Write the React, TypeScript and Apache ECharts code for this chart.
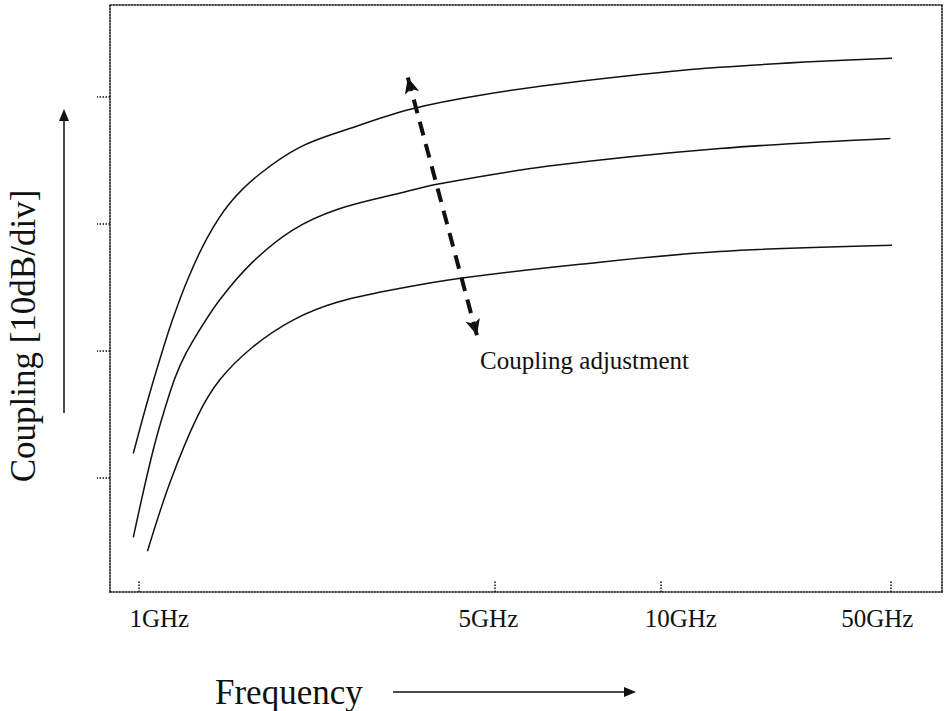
import React, { useEffect, useRef } from "react";
import * as echarts from "echarts";

// Schematic positions along the frequency axis (not a log scale in the drawing)
const freqLabels = ["1GHz", "5GHz", "10GHz", "50GHz"];
const freqTickPos = [3.4, 46.2, 66.2, 93.9];
// Coupling axis ticks, 10 dB per division
const couplingTicks = [9, 19, 29, 39];

// Curve 1 (highest coupling)
const topX = [2.8, 4.2, 5.8, 7.5, 9.4, 11.7, 14.4, 18.0, 22.8, 28.9, 36.1, 44.5, 56.5, 73.3, 94.0];
const topY = [10.9, 14.3, 17.9, 21.4, 24.7, 27.9, 30.6, 32.9, 35.0, 36.5, 38.0, 39.1, 40.2, 41.3, 42.0];
// Curve 2 (middle)
const midX = [2.8, 5.2, 7.2, 8.4, 10.0, 13.2, 17.2, 22.0, 27.3, 34.9, 39.3, 52.5, 73.3, 93.8];
const midY = [4.3, 11.2, 15.7, 17.8, 19.8, 23.0, 26.0, 28.5, 30.1, 31.4, 32.1, 33.5, 34.9, 35.7];
// Curve 3 (lowest coupling)
const lowX = [4.5, 7.2, 10.5, 13.2, 17.2, 22.0, 27.3, 34.9, 42.1, 56.5, 73.3, 94.0];
const lowY = [3.2, 8.6, 13.8, 16.7, 19.3, 21.4, 22.8, 23.9, 24.7, 25.8, 26.8, 27.3];

// Coupling adjustment arrow ends [x, y]
const adjustTop = [35.8, 40.5];
const adjustBottom = [44.1, 20.2];

const FONT = "'Liberation Serif', 'Times New Roman', serif";
const INK = "#111";

const zip = (xs: number[], ys: number[]) => xs.map((x, i) => [x, ys[i]]);

export default function App() {
  const ref = useRef<HTMLDivElement>(null);
  useEffect(() => {
    if (!ref.current) return;
    const chart = echarts.init(ref.current, null, { renderer: "svg" });
    const curveStyle = { color: INK, width: 1.5 };
    const curve = (name: string, data: number[][]) => ({
      type: "line",
      name,
      data,
      smooth: 0.35,
      showSymbol: false,
      lineStyle: curveStyle,
      silent: true,
    });
    const dottedLine = { color: INK, width: 1.5, type: "dotted" };
    chart.setOption({
      animation: false,
      backgroundColor: "#fff",
      grid: { left: 110, right: 3, top: 5, bottom: 119 },
      xAxis: [
        {
          type: "value",
          min: 0,
          max: 100,
          axisLine: { show: true, onZero: false, lineStyle: dottedLine },
          axisTick: {
            show: true,
            inside: true,
            length: 12,
            customValues: freqTickPos,
            lineStyle: dottedLine,
          },
          axisLabel: {
            show: true,
            customValues: freqTickPos,
            margin: 14,
            formatter: (v: number) => {
              const i = freqTickPos.findIndex((p) => Math.abs(p - v) < 1e-6);
              if (i < 0) return "";
              return "{s" + i + "|" + freqLabels[i] + "}";
            },
            rich: {
              s0: { fontFamily: FONT, fontSize: 25, color: INK, padding: [0, 0, 0, 42] },
              s1: { fontFamily: FONT, fontSize: 25, color: INK, padding: [0, 12, 0, 0] },
              s2: { fontFamily: FONT, fontSize: 25, color: INK, padding: [0, 0, 0, 40] },
              s3: { fontFamily: FONT, fontSize: 25, color: INK, padding: [0, 28, 0, 0] },
            },
          },
          splitLine: { show: false },
        },
        {
          type: "value",
          position: "top",
          min: 0,
          max: 100,
          axisLine: { show: true, onZero: false, lineStyle: dottedLine },
          axisTick: { show: false },
          axisLabel: { show: false },
          splitLine: { show: false },
        },
      ],
      yAxis: [
        {
          type: "value",
          min: 0,
          max: 46.2,
          axisLine: { show: true, onZero: false, lineStyle: dottedLine },
          axisTick: {
            show: true,
            length: 13,
            customValues: couplingTicks,
            lineStyle: dottedLine,
          },
          axisLabel: { show: false },
          splitLine: { show: false },
        },
        {
          type: "value",
          position: "right",
          min: 0,
          max: 46.2,
          axisLine: { show: true, onZero: false, lineStyle: dottedLine },
          axisTick: { show: false },
          axisLabel: { show: false },
          splitLine: { show: false },
        },
      ],
      series: [
        curve("high", zip(topX, topY)),
        curve("mid", zip(midX, midY)),
        {
          ...curve("low", zip(lowX, lowY)),
          markLine: {
            silent: true,
            symbol: ["arrow", "arrow"],
            symbolSize: [11, 16],
            label: { show: false },
            lineStyle: { color: INK, width: 4, type: [14, 9] },
            emphasis: { disabled: true },
            data: [[{ coord: adjustTop }, { coord: adjustBottom }]],
          },
        },
      ],
      graphic: [
        {
          type: "text",
          x: 480,
          y: 360,
          style: {
            text: "Coupling adjustment",
            font: `25px ${FONT}`,
            fill: INK,
            verticalAlign: "middle",
          },
        },
        {
          type: "text",
          x: 215,
          y: 692,
          style: {
            text: "Frequency",
            font: `35px ${FONT}`,
            fill: INK,
            verticalAlign: "middle",
          },
        },
        {
          type: "line",
          shape: { x1: 393, y1: 692, x2: 626, y2: 692 },
          style: { stroke: INK, lineWidth: 1.5 },
        },
        {
          type: "polygon",
          shape: { points: [[624, 687], [636, 692], [624, 697]] },
          style: { fill: INK },
        },
        {
          type: "text",
          x: 23,
          y: 336,
          rotation: Math.PI / 2,
          style: {
            text: "Coupling [10dB/div]",
            font: `35px ${FONT}`,
            fill: INK,
            align: "center",
            verticalAlign: "middle",
          },
        },
        {
          type: "line",
          shape: { x1: 64, y1: 413, x2: 64, y2: 120 },
          style: { stroke: INK, lineWidth: 1.5 },
        },
        {
          type: "polygon",
          shape: { points: [[59, 121], [64, 109], [69, 121]] },
          style: { fill: INK },
        },
      ],
    });
    return () => chart.dispose();
  }, []);
  return (
    <div
      ref={ref}
      style={{ position: "fixed", left: 0, top: 0, width: 945, height: 711 }}
    />
  );
}
